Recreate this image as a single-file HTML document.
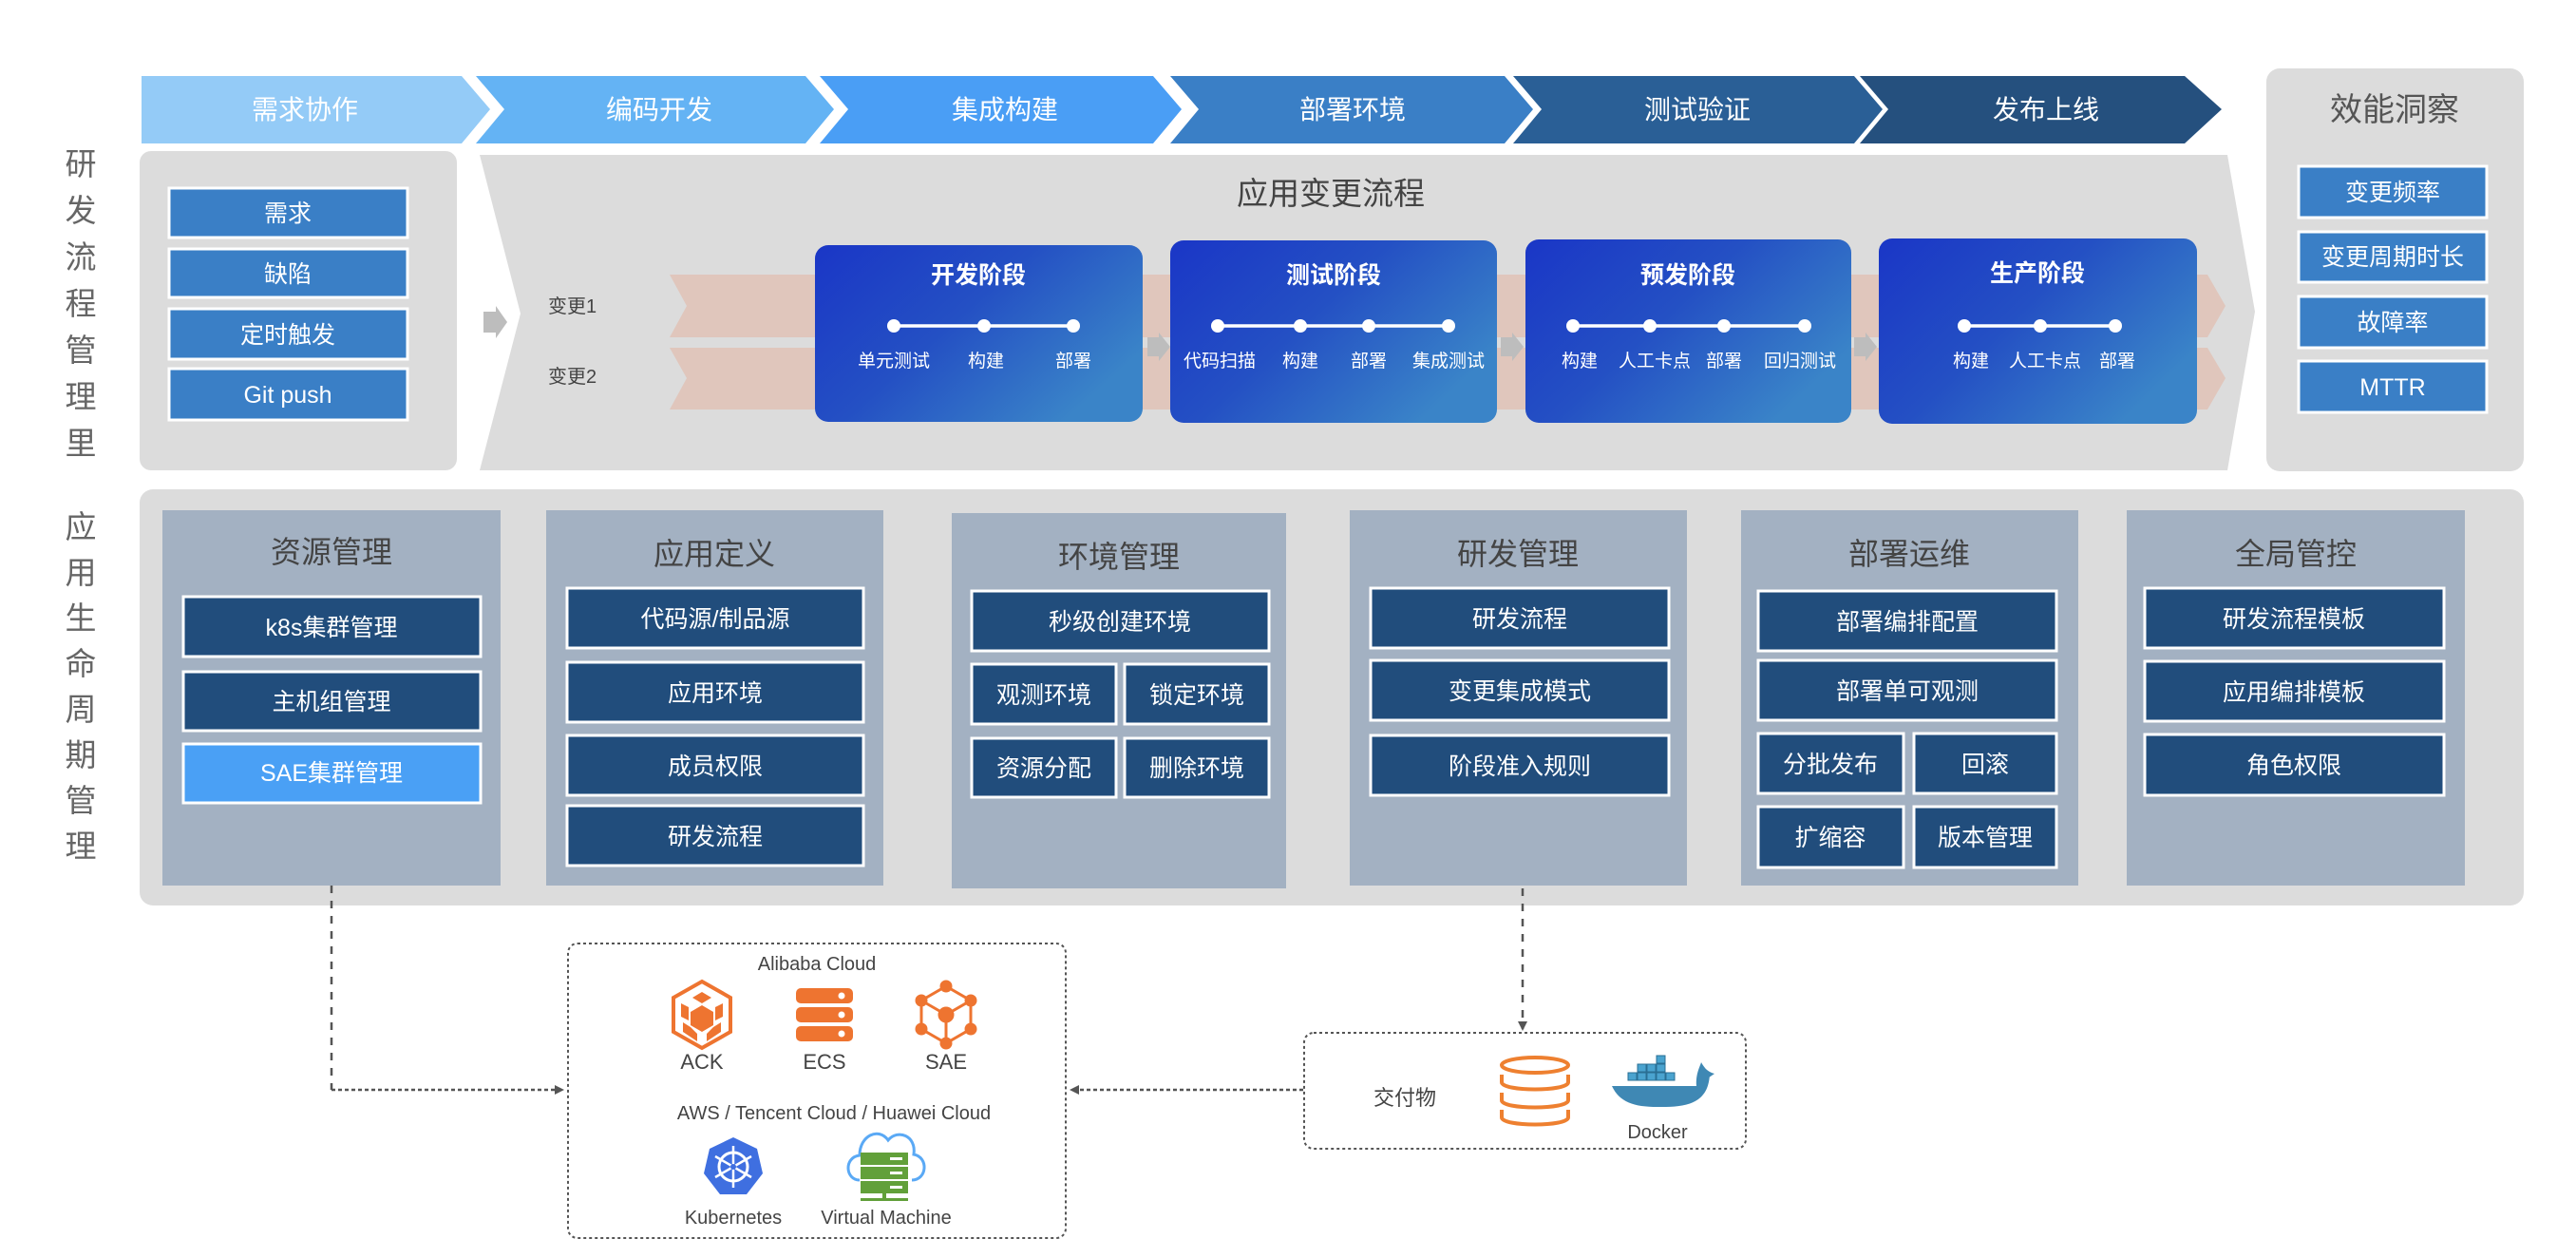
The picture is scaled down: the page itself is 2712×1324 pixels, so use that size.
<!DOCTYPE html>
<html><head><meta charset="utf-8"><style>
html,body{margin:0;padding:0;background:#fff;}
svg{display:block;}
text{font-family:"Liberation Sans","Noto Sans CJK SC",sans-serif;}
</style></head><body>
<svg width="2712" height="1324" viewBox="0 0 2712 1324" xmlns="http://www.w3.org/2000/svg">
<defs>
<linearGradient id="cg" x1="0" y1="0" x2="1" y2="0.6">
<stop offset="0" stop-color="#1a36c6"/><stop offset="0.5" stop-color="#2450c4"/><stop offset="1" stop-color="#3a84c8"/>
</linearGradient>
<marker id="ah" markerWidth="10" markerHeight="10" refX="8" refY="5" orient="auto" markerUnits="userSpaceOnUse">
<path d="M0,0 L10,5 L0,10 z" fill="#555"/></marker>
</defs>

<!-- top arrows -->
<polygon points="149,80 486,80 516,115 486,151 149,151" fill="#94cbf7"/>
<polygon points="501,80 848,80 878,115 848,151 501,151 531,115" fill="#64b3f4"/>
<polygon points="863,80 1214,80 1244,115 1214,151 863,151 893,115" fill="#4a9ef5"/>
<polygon points="1232,80 1584,80 1614,115 1584,151 1232,151 1262,115" fill="#3a7fc6"/>
<polygon points="1593,80 1952,80 1982,115 1952,151 1593,151 1623,115" fill="#2a5f96"/>
<polygon points="1958,80 2300,80 2339,115 2300,151 1958,151 1988,115" fill="#25507e"/>
<g fill="#fff" font-size="28" text-anchor="middle">
<text x="321" y="125">需求协作</text>
<text x="694" y="125">编码开发</text>
<text x="1058" y="125">集成构建</text>
<text x="1424" y="125">部署环境</text>
<text x="1787" y="125">测试验证</text>
<text x="2154" y="125">发布上线</text>
</g>

<!-- left vertical labels -->
<g fill="#666" font-size="33" text-anchor="middle">
<text x="85" y="184">研</text><text x="85" y="233">发</text><text x="85" y="282">流</text><text x="85" y="331">程</text><text x="85" y="380">管</text><text x="85" y="429">理</text><text x="85" y="478">里</text>
<text x="85" y="566">应</text><text x="85" y="614">用</text><text x="85" y="662">生</text><text x="85" y="710">命</text><text x="85" y="758">周</text><text x="85" y="806">期</text><text x="85" y="854">管</text><text x="85" y="902">理</text>
</g>

<!-- left source box -->
<rect x="147" y="159" width="334" height="336" rx="12" fill="#dcdcdc"/>
<g fill="#3a7fc6" stroke="#fff" stroke-width="3">
<rect x="178" y="198" width="251" height="52"/>
<rect x="178" y="262" width="251" height="51"/>
<rect x="178" y="325" width="251" height="53"/>
<rect x="178" y="388" width="251" height="54"/>
</g>
<g fill="#fff" font-size="25" text-anchor="middle">
<text x="303" y="233">需求</text><text x="303" y="297">缺陷</text><text x="303" y="361">定时触发</text><text x="303" y="424">Git push</text>
</g>
<polygon points="509,328 522,328 522,322 534,339 522,356 522,350 509,350" fill="#bdbdbd"/>

<!-- big chevron panel -->
<polygon points="505,163 2345,163 2374,328 2345,495 505,495 548,330" fill="#dcdcdc"/>
<text x="1401" y="215" font-size="33" fill="#444" text-anchor="middle">应用变更流程</text>
<text x="577" y="329" font-size="20" fill="#444">变更1</text>
<text x="577" y="403" font-size="20" fill="#444">变更2</text>
<polygon points="705,289 2324,289 2343,322 2324,355 705,355 723,322" fill="#e0c6bc"/>
<polygon points="705,366 2324,366 2343,398 2324,431 705,431 723,398" fill="#e0c6bc"/>
<g fill="#bdbdbd">
<polygon points="1208,355 1220,355 1220,350 1232,365 1220,380 1220,375 1208,375"/>
<polygon points="1580,355 1592,355 1592,350 1604,365 1592,380 1592,375 1580,375"/>
<polygon points="1952,355 1964,355 1964,350 1976,365 1964,380 1964,375 1952,375"/>
</g>

<!-- stage cards -->
<rect x="858" y="258" width="345" height="186" rx="14" fill="url(#cg)"/>
<rect x="1232" y="253" width="344" height="192" rx="14" fill="url(#cg)"/>
<rect x="1606" y="252" width="343" height="193" rx="14" fill="url(#cg)"/>
<rect x="1978" y="251" width="335" height="195" rx="14" fill="url(#cg)"/>
<g fill="#fff" font-size="25" font-weight="bold" text-anchor="middle">
<text x="1030" y="298">开发阶段</text>
<text x="1404" y="298">测试阶段</text>
<text x="1777" y="298">预发阶段</text>
<text x="2145" y="296">生产阶段</text>
</g>
<g stroke="#fff" stroke-width="3.5">
<line x1="941" y1="343" x2="1130" y2="343"/>
<line x1="1282" y1="343" x2="1525" y2="343"/>
<line x1="1656" y1="343" x2="1900" y2="343"/>
<line x1="2068" y1="343" x2="2227" y2="343"/>
</g>
<g fill="#fff">
<circle cx="941" cy="343" r="7"/><circle cx="1036" cy="343" r="7"/><circle cx="1130" cy="343" r="7"/>
<circle cx="1282" cy="343" r="7"/><circle cx="1369" cy="343" r="7"/><circle cx="1441" cy="343" r="7"/><circle cx="1525" cy="343" r="7"/>
<circle cx="1656" cy="343" r="7"/><circle cx="1737" cy="343" r="7"/><circle cx="1815" cy="343" r="7"/><circle cx="1900" cy="343" r="7"/>
<circle cx="2068" cy="343" r="7"/><circle cx="2148" cy="343" r="7"/><circle cx="2227" cy="343" r="7"/>
</g>
<g fill="#fff" font-size="19" text-anchor="middle">
<text x="941" y="386">单元测试</text><text x="1038" y="386">构建</text><text x="1130" y="386">部署</text>
<text x="1284" y="386">代码扫描</text><text x="1369" y="386">构建</text><text x="1441" y="386">部署</text><text x="1525" y="386">集成测试</text>
<text x="1663" y="386">构建</text><text x="1742" y="386">人工卡点</text><text x="1815" y="386">部署</text><text x="1895" y="386">回归测试</text>
<text x="2075" y="386">构建</text><text x="2153" y="386">人工卡点</text><text x="2229" y="386">部署</text>
</g>

<!-- right panel -->
<rect x="2386" y="72" width="271" height="424" rx="14" fill="#dcdcdc"/>
<text x="2521" y="127" font-size="34" fill="#555" text-anchor="middle">效能洞察</text>
<g fill="#3a7fc6" stroke="#fff" stroke-width="3">
<rect x="2420" y="175" width="198" height="54"/>
<rect x="2420" y="244" width="198" height="53"/>
<rect x="2420" y="312" width="198" height="54"/>
<rect x="2420" y="380" width="198" height="54"/>
</g>
<g fill="#fff" font-size="25" text-anchor="middle">
<text x="2519" y="211">变更频率</text><text x="2519" y="279">变更周期时长</text><text x="2519" y="348">故障率</text><text x="2519" y="416">MTTR</text>
</g>

<!-- bottom panel -->
<rect x="147" y="515" width="2510" height="438" rx="14" fill="#dcdcdc"/>
<g fill="#a3b1c2">
<rect x="171" y="537" width="356" height="395"/>
<rect x="575" y="537" width="355" height="395"/>
<rect x="1002" y="540" width="352" height="395"/>
<rect x="1421" y="537" width="355" height="395"/>
<rect x="1833" y="537" width="355" height="395"/>
<rect x="2239" y="537" width="356" height="395"/>
</g>
<g fill="#444" font-size="32" text-anchor="middle">
<text x="349" y="592">资源管理</text>
<text x="752" y="594">应用定义</text>
<text x="1178" y="597">环境管理</text>
<text x="1598" y="594">研发管理</text>
<text x="2010" y="594">部署运维</text>
<text x="2417" y="594">全局管控</text>
</g>
<g fill="#214d7c" stroke="#fff" stroke-width="3">
<rect x="193" y="628" width="313" height="63"/>
<rect x="193" y="707" width="313" height="62"/>
<rect x="597" y="619" width="312" height="63"/>
<rect x="597" y="697" width="312" height="63"/>
<rect x="597" y="774" width="312" height="63"/>
<rect x="597" y="848" width="312" height="63"/>
<rect x="1023" y="622" width="313" height="63"/>
<rect x="1023" y="699" width="152" height="63"/>
<rect x="1184" y="699" width="152" height="63"/>
<rect x="1023" y="777" width="152" height="62"/>
<rect x="1184" y="777" width="152" height="62"/>
<rect x="1443" y="619" width="314" height="63"/>
<rect x="1443" y="695" width="314" height="63"/>
<rect x="1443" y="774" width="314" height="63"/>
<rect x="1851" y="622" width="314" height="63"/>
<rect x="1851" y="695" width="314" height="63"/>
<rect x="1851" y="772" width="153" height="63"/>
<rect x="2015" y="772" width="150" height="63"/>
<rect x="1851" y="849" width="153" height="64"/>
<rect x="2015" y="849" width="150" height="64"/>
<rect x="2258" y="619" width="315" height="63"/>
<rect x="2258" y="696" width="315" height="63"/>
<rect x="2258" y="773" width="315" height="64"/>
</g>
<rect x="193" y="783" width="313" height="62" fill="#4aa0f5" stroke="#fff" stroke-width="3"/>
<g fill="#fff" font-size="25" text-anchor="middle">
<text x="349" y="669">k8s集群管理</text>
<text x="349" y="747">主机组管理</text>
<text x="349" y="822">SAE集群管理</text>
<text x="753" y="660">代码源/制品源</text>
<text x="753" y="738">应用环境</text>
<text x="753" y="815">成员权限</text>
<text x="753" y="889">研发流程</text>
<text x="1179" y="663">秒级创建环境</text>
<text x="1099" y="740">观测环境</text>
<text x="1260" y="740">锁定环境</text>
<text x="1099" y="817">资源分配</text>
<text x="1260" y="817">删除环境</text>
<text x="1600" y="660">研发流程</text>
<text x="1600" y="736">变更集成模式</text>
<text x="1600" y="815">阶段准入规则</text>
<text x="2008" y="663">部署编排配置</text>
<text x="2008" y="736">部署单可观测</text>
<text x="1927" y="813">分批发布</text>
<text x="2090" y="813">回滚</text>
<text x="1927" y="890">扩缩容</text>
<text x="2090" y="890">版本管理</text>
<text x="2415" y="660">研发流程模板</text>
<text x="2415" y="737">应用编排模板</text>
<text x="2415" y="814">角色权限</text>
</g>

<!-- connectors -->
<g fill="none" stroke="#555" stroke-width="2.5">
<path d="M349,932 L349,1147" stroke-dasharray="8,8"/>
<path d="M349,1147 L592,1147" stroke-dasharray="4,3" marker-end="url(#ah)"/>
<path d="M1603,935 L1603,1083" stroke-dasharray="8,8" marker-end="url(#ah)"/>
<path d="M1372,1147 L1128,1147" stroke-dasharray="4,3" marker-end="url(#ah)"/>
</g>
<g fill="none" stroke="#555" stroke-width="2" stroke-dasharray="3,3">
<rect x="598" y="993" width="524" height="310" rx="10"/>
<rect x="1373" y="1087" width="465" height="122" rx="10"/>
</g>

<!-- cloud box texts -->
<g fill="#444" font-size="20" text-anchor="middle">
<text x="860" y="1021">Alibaba Cloud</text>
<text x="739" y="1125" font-size="22">ACK</text>
<text x="868" y="1125" font-size="22">ECS</text>
<text x="996" y="1125" font-size="22">SAE</text>
<text x="878" y="1178">AWS / Tencent Cloud / Huawei Cloud</text>
<text x="772" y="1288">Kubernetes</text>
<text x="933" y="1288">Virtual Machine</text>
<text x="1479" y="1163" font-size="22">交付物</text>
<text x="1745" y="1198">Docker</text>
</g>

<!-- ACK icon -->
<g transform="translate(739,1068)" fill="#ee7430">
<polygon points="0,-35 30,-18 30,18 0,35 -30,18 -30,-18" fill="none" stroke="#ee7430" stroke-width="4"/>
<polygon points="0,-24 10,-18 0,-12 -10,-18"/>
<polygon points="0,-10 12,-3 12,11 0,18 -12,11 -12,-3"/>
<polygon points="-22,-12 -14,-8 -14,6 -22,2"/>
<polygon points="22,-12 14,-8 14,6 22,2"/>
<polygon points="-20,8 -12,13 -5,20 -5,28 -20,18"/>
<polygon points="20,8 12,13 5,20 5,28 20,18"/>
</g>
<!-- ECS icon -->
<g fill="#ee7430">
<rect x="838" y="1040" width="60" height="16" rx="5"/>
<rect x="838" y="1060" width="60" height="16" rx="5"/>
<rect x="838" y="1080" width="60" height="16" rx="5"/>
</g>
<g fill="#fff"><circle cx="886" cy="1048" r="3.5"/><circle cx="886" cy="1068" r="3.5"/><circle cx="886" cy="1088" r="3.5"/></g>
<!-- SAE icon -->
<g transform="translate(996,1068)" stroke="#ee7430" stroke-width="3" fill="#ee7430">
<polygon points="0,-30 26,-15 26,15 0,30 -26,15 -26,-15" fill="none"/>
<line x1="0" y1="0" x2="-26" y2="-15"/><line x1="0" y1="0" x2="26" y2="-15"/><line x1="0" y1="0" x2="0" y2="30"/>
<circle cx="0" cy="-30" r="5"/><circle cx="26" cy="-15" r="5"/><circle cx="26" cy="15" r="5"/><circle cx="0" cy="30" r="5"/><circle cx="-26" cy="15" r="5"/><circle cx="-26" cy="-15" r="5"/><circle cx="0" cy="0" r="7"/>
</g>
<!-- Kubernetes -->
<g transform="translate(772,1228)">
<polygon points="0,-31 25,-19 31,7 14,29 -14,29 -31,7 -25,-19" fill="#3f6fe0"/>
<circle r="15" fill="none" stroke="#fff" stroke-width="3"/>
<g stroke="#fff" stroke-width="2.5">
<line x1="0" y1="-22" x2="0" y2="22"/><line x1="-19" y1="-11" x2="19" y2="11"/><line x1="-19" y1="11" x2="19" y2="-11"/>
</g>
<circle r="3" fill="#3f6fe0"/>
</g>
<!-- Virtual machine -->
<g>
<path d="M905,1242 C890,1242 888,1218 905,1216 C905,1195 925,1186 935,1200 C945,1188 965,1195 962,1215 C978,1218 976,1242 960,1242" fill="none" stroke="#5aa9f5" stroke-width="3"/>
<rect x="906" y="1213" width="50" height="13" fill="#62a03a"/>
<rect x="906" y="1228" width="50" height="13" fill="#62a03a"/>
<rect x="906" y="1243" width="50" height="13" fill="#62a03a"/>
<g fill="#fff"><rect x="937" y="1218" width="13" height="3"/><rect x="937" y="1233" width="13" height="3"/><rect x="937" y="1248" width="13" height="3"/></g>
<rect x="929" y="1256" width="4" height="6" fill="#62a03a"/>
<rect x="906" y="1261" width="50" height="3" fill="#62a03a"/>
</g>
<!-- DB icon -->
<g fill="none" stroke="#ee8030" stroke-width="4">
<ellipse cx="1616" cy="1121" rx="35" ry="8"/>
<path d="M1581,1131 v8 c0,10 70,10 70,0 v-8"/>
<path d="M1581,1150 v8 c0,10 70,10 70,0 v-8"/>
<path d="M1581,1168 v8 c0,10 70,10 70,0 v-8"/>
</g>
<!-- Docker -->
<g>
<path d="M1697,1143 L1786,1143 C1790,1135 1795,1130 1800,1128 C1800,1165 1770,1165 1745,1165 C1720,1165 1705,1160 1697,1143 z" fill="#3f88b4"/>
<path d="M1786,1143 C1785,1130 1790,1122 1791,1118 C1795,1125 1798,1128 1805,1130" fill="#3f88b4"/>
<g fill="#4aa3cf" stroke="#2a6f94" stroke-width="1">
<rect x="1714" y="1129" width="9" height="8"/><rect x="1724" y="1129" width="9" height="8"/><rect x="1734" y="1129" width="9" height="8"/><rect x="1744" y="1129" width="9" height="8"/><rect x="1754" y="1129" width="9" height="8"/>
<rect x="1724" y="1120" width="9" height="8"/><rect x="1734" y="1120" width="9" height="8"/><rect x="1744" y="1120" width="9" height="8"/>
<rect x="1744" y="1111" width="9" height="8"/>
</g>
</g>
</svg>
</body></html>
